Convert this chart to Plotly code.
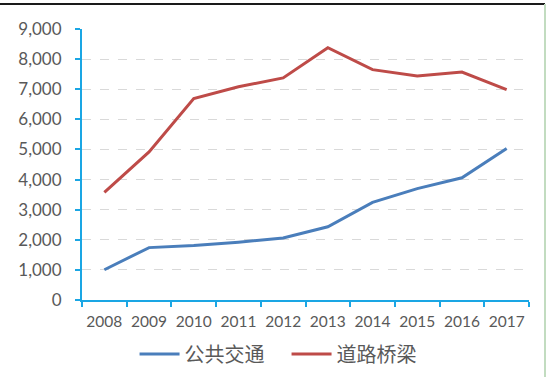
import plotly.graph_objects as go

years = ["2008", "2009", "2010", "2011", "2012", "2013", "2014", "2015", "2016", "2017"]
public_transport = [1005, 1740, 1810, 1920, 2060, 2430, 3240, 3700, 4060, 5035]
road_bridge = [3575, 4920, 6690, 7080, 7375, 8380, 7650, 7440, 7570, 6985]
series_names = ["公共交通", "道路桥梁"]
y_ticks = [0, 1000, 2000, 3000, 4000, 5000, 6000, 7000, 8000, 9000]
y_tick_text = ["0", "1,000", "2,000", "3,000", "4,000", "5,000", "6,000", "7,000", "8,000", "9,000"]

font_family = "Lato, 'Noto Sans CJK SC', sans-serif"
axis_color = "#1aa6e4"

fig = go.Figure()
fig.add_trace(go.Scatter(x=years, y=public_transport, name=series_names[0], mode="lines",
                         line=dict(color="#4a7ebb", width=3)))
fig.add_trace(go.Scatter(x=years, y=road_bridge, name=series_names[1], mode="lines",
                         line=dict(color="#be4b48", width=3)))

fig.update_layout(
    width=550, height=377,
    margin=dict(l=82, r=21, t=29, b=77, autoexpand=False),
    paper_bgcolor="white", plot_bgcolor="white",
    font=dict(family=font_family, color="#595959", size=16),
    showlegend=True,
    legend=dict(orientation="h", xref="container", yref="container",
                x=0.521, xanchor="center", y=1 - 354/377, yanchor="middle",
                font=dict(size=20, color="#595959"), itemwidth=40, tracegroupgap=0,
                entrywidth=97),
    xaxis=dict(type="category", range=[-0.5, 9.5], showline=True, linecolor=axis_color, linewidth=2,
               ticks="outside", tickcolor=axis_color, ticklen=5, tickwidth=2,
               tickson="boundaries", showgrid=False, tickfont=dict(size=15.5), tickangle=0,
               ticklabelstandoff=6, automargin=False),
    yaxis=dict(range=[0, 9000], tickvals=y_ticks, ticktext=y_tick_text,
               showline=True, linecolor=axis_color, linewidth=2,
               ticks="outside", tickcolor=axis_color, ticklen=5, tickwidth=2,
               showgrid=True, gridcolor="#d9d9d9", griddash="dash", gridwidth=1,
               zeroline=False, tickfont=dict(size=17), ticklabelstandoff=10,
               automargin=False),
    shapes=[
        dict(type="line", xref="paper", yref="paper", x0=-82/447, x1=463/447,
             y0=1 + 25/271, y1=1 + 25/271, line=dict(color="#1a1a1a", width=2)),
        dict(type="line", xref="paper", yref="paper", x0=463/447, x1=463/447,
             y0=1 + 25/271, y1=-77/271, line=dict(color="#c2dcc0", width=2)),
    ],
)

fig.write_html("out.html", config={"displayModeBar": False},
               post_script="document.body.style.margin='0';")
